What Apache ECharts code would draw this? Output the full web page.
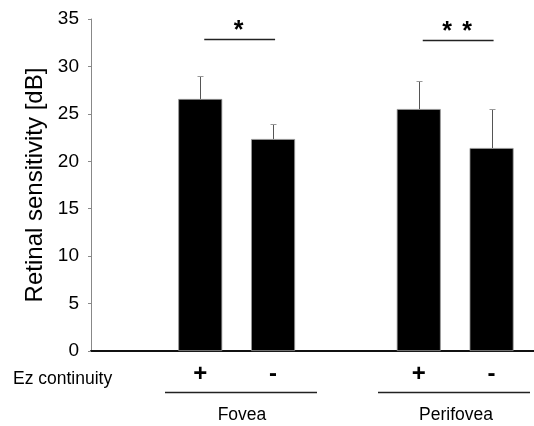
<!DOCTYPE html>
<html>
<head>
<meta charset="utf-8">
<script src="https://cdn.jsdelivr.net/npm/echarts@6/dist/echarts.min.js"></script>
<style>
html,body{margin:0;padding:0;background:#fff;}
#chart{width:534px;height:426px;}
</style>
</head>
<body>
<div id="chart"></div>
<script>
// ---- data ----
const categories = ['', '+', '-', '', '+', '-'];
const means      = ['-', 26.57, 22.35, '-', 25.51, 21.40];
const errorTops  = [null, 29.02, 23.90, null, 28.46, 25.54];
const groups = ['Fovea', 'Perifovea'];
const rowLabel = 'Ez continuity';
const yTicks = { min: 0, max: 35, interval: 5 };
const yTitle = 'Retinal sensitivity [dB]';
// significance: [fromCategory, toCategory, level, stars]
const sigFrom = [1, 4];
const sigTo = [2, 5];
const sigLevel = [32.85, 32.8];
const sigStars = [1, 2];

const FONT = "'Liberation Sans', Arial, sans-serif";

const errData = [];
for (let i = 0; i < categories.length; i++) {
  if (errorTops[i] != null) errData.push([i, means[i], errorTops[i]]);
}
const sigData = sigFrom.map((f, i) => [f, sigTo[i], sigLevel[i], sigStars[i]]);

const chart = echarts.init(document.getElementById('chart'), null, {renderer: 'canvas'});
chart.setOption({
  animation: false,
  backgroundColor: '#fff',
  grid: { left: 91, right: 6, top: 19, bottom: 75, containLabel: false },
  xAxis: {
    type: 'category',
    data: categories,
    axisLine: { show: true, lineStyle: { color: '#111', width: 2 } },
    axisTick: { show: false },
    axisLabel: { fontSize: 24, lineHeight: 24, fontWeight: 'bold', color: '#000', fontFamily: FONT, margin: 11, interval: 0 }
  },
  yAxis: {
    type: 'value',
    min: yTicks.min, max: yTicks.max, interval: yTicks.interval,
    name: yTitle,
    nameLocation: 'middle',
    nameGap: 44,
    nameTextStyle: { fontSize: 24, color: '#000', fontFamily: FONT },
    axisLine: { show: true, lineStyle: { color: '#888', width: 1 } },
    axisTick: { show: true, length: 3, lineStyle: { color: '#888' } },
    splitLine: { show: false },
    axisLabel: { fontSize: 19, color: '#000', fontFamily: FONT, margin: 12 }
  },
  series: [
    {
      type: 'bar',
      data: means,
      barWidth: 44,
      itemStyle: { color: '#000', borderColor: '#999', borderWidth: 0.8 },
      z: 2
    },
    {
      type: 'custom',
      data: errData,
      z: 3,
      renderItem: function (params, api) {
        const base = api.coord([api.value(0), api.value(1)]);
        const top = api.coord([api.value(0), api.value(2)]);
        const x = Math.round(base[0]) + 0.5;
        const yt = Math.round(top[1]) + 0.5;
        return {
          type: 'group',
          children: [
            { type: 'line', shape: { x1: x, y1: base[1], x2: x, y2: yt }, style: { stroke: '#555', lineWidth: 1 } },
            { type: 'line', shape: { x1: x - 3, y1: yt, x2: x + 3, y2: yt }, style: { stroke: '#999', lineWidth: 1 } }
          ]
        };
      }
    },
    {
      type: 'custom',
      data: sigData,
      z: 3,
      clip: false,
      renderItem: function (params, api) {
        const p1 = api.coord([api.value(0), api.value(2)]);
        const p2 = api.coord([api.value(1), api.value(2)]);
        const n = api.value(3);
        const y = Math.round(p1[1]) + 0.5;
        const cx = (p1[0] + p2[0]) / 2 + 2;
        const children = [
          { type: 'line', shape: { x1: p1[0] + 4, y1: y, x2: p2[0] + 2, y2: y }, style: { stroke: '#222', lineWidth: 1.5 } }
        ];
        for (let k = 0; k < n; k++) {
          const off = n === 1 ? 0 : (k === 0 ? -10 : 10);
          children.push({
            type: 'text',
            style: { text: '*', x: cx + off, y: y - 8, fontSize: 25, fontWeight: 'bold', fontFamily: FONT, fill: '#000', align: 'center', verticalAlign: 'middle' }
          });
        }
        return { type: 'group', children: children };
      }
    }
  ],
  graphic: [
    { type: 'line', shape: { x1: 520, y1: 351, x2: 534, y2: 351 }, style: { stroke: '#111', lineWidth: 2 } },
    { type: 'text', left: 13, top: 370, style: { text: rowLabel, fontSize: 17.5, fontFamily: FONT, fill: '#000' } },
    { type: 'line', shape: { x1: 165, y1: 392.5, x2: 317, y2: 392.5 }, style: { stroke: '#222', lineWidth: 1.5 } },
    { type: 'line', shape: { x1: 378, y1: 392.5, x2: 530, y2: 392.5 }, style: { stroke: '#222', lineWidth: 1.5 } },
    { type: 'text', x: 242, y: 415, style: { text: groups[0], fontSize: 17.5, fontFamily: FONT, fill: '#000', align: 'center', verticalAlign: 'middle' } },
    { type: 'text', x: 456, y: 415, style: { text: groups[1], fontSize: 17.5, fontFamily: FONT, fill: '#000', align: 'center', verticalAlign: 'middle' } }
  ]
});
</script>
</body>
</html>
